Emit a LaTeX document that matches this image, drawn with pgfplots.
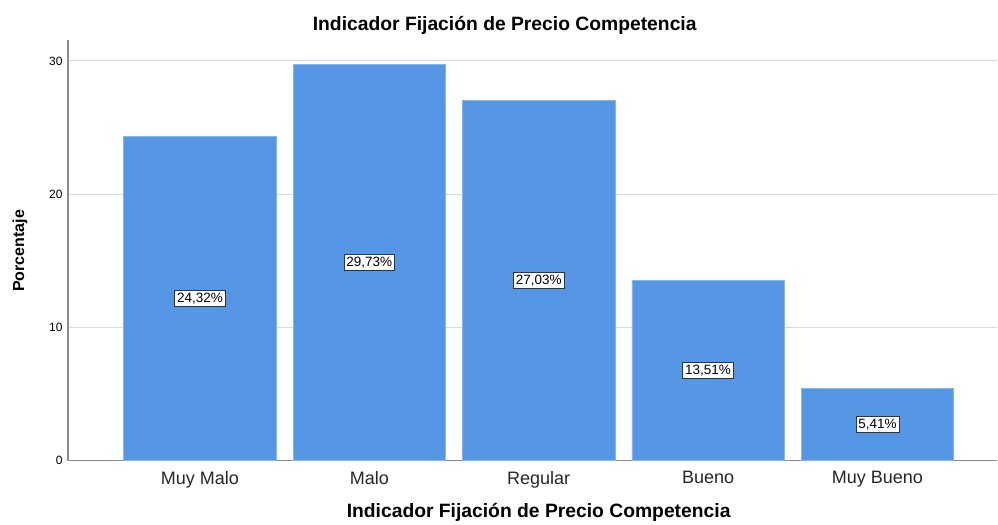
\documentclass[border=0pt]{standalone}
\usepackage{pgfplots}
\pgfplotsset{compat=1.18}
\usepackage{fontspec}
\setmainfont{Liberation Sans}
\definecolor{barblue}{HTML}{5596E5}
\definecolor{gridgray}{HTML}{D9D9D9}
\definecolor{axgray}{HTML}{8C8C8C}
\begin{document}
\begin{tikzpicture}
\begin{axis}[
  scale only axis,
  width=930pt, height=421pt,
  xmin=-0.779, xmax=4.708,
  ymin=0, ymax=31.575,
  axis lines*=left,
  axis line style={axgray, line width=1.2pt, -},
  xtick={0,1,2,3,4},
  xticklabels={Muy Malo, Malo, Regular, Bueno, Muy Bueno},
  ytick={0,10,20,30},
  major tick length=0pt,
  ymajorgrids,
  grid style={gridgray, line width=1pt},
  /pgf/number format/assume math mode=true,
  xticklabel style={font=\fontsize{18}{21}\selectfont, text=black!85, yshift=-7pt},
  yticklabel style={font=\fontsize{12}{14}\selectfont, xshift=-2pt},
  xlabel={\textbf{Indicador Fijación de Precio Competencia}},
  xlabel style={font=\fontsize{19.3}{22}\selectfont, at={(0.5,0)}, anchor=north, yshift=-39pt, xshift=6pt},
  clip=false,
]
\addplot[ybar, bar width=0.9, fill=barblue, draw=barblue!70!white, line width=0.6pt]
  coordinates {(0,24.32) (1,29.73) (2,27.03) (3,13.51) (4,5.41)};
\addplot[only marks, mark=none, point meta=explicit symbolic,
  nodes near coords, nodes near coords align={center},
  every node near coord/.style={font=\fontsize{13.5}{15}\selectfont, fill=white, draw=black!80, line width=0.8pt, inner sep=2.4pt, anchor=center}]
  table[meta=lab] {
x y lab
0 12.16 24,32\%
1 14.865 29,73\%
2 13.515 27,03\%
3 6.755 13,51\%
4 2.705 5,41\%
};
\end{axis}
\node[font=\fontsize{19.3}{22}\selectfont\bfseries, anchor=center] at (437pt,436pt) {Indicador Fijación de Precio Competencia};
\node[font=\fontsize{16}{18}\selectfont\bfseries, anchor=center, rotate=90] at (-48pt,210pt) {Porcentaje};
\path[use as bounding box] (-68pt,-59pt) rectangle (930pt,461pt);
\end{tikzpicture}
\end{document}
